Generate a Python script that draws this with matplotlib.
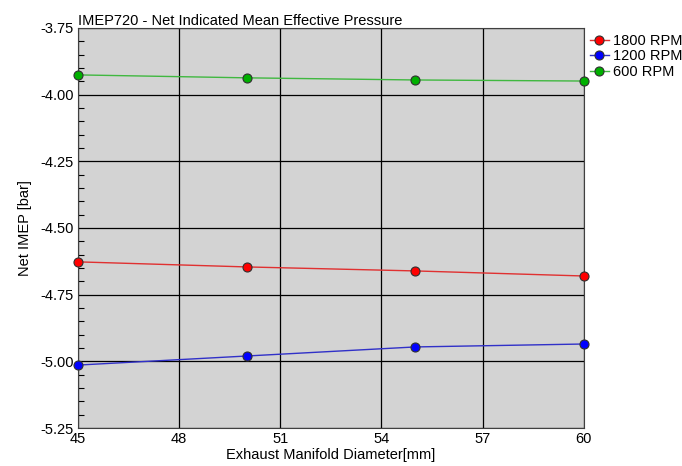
import matplotlib
matplotlib.use("Agg")
import matplotlib.pyplot as plt
from matplotlib.ticker import MultipleLocator, FormatStrFormatter
from matplotlib import font_manager

# pick a condensed sans face if available
names = {f.name for f in font_manager.fontManager.ttflist}
family = "Liberation Sans Narrow" if "Liberation Sans Narrow" in names else "Liberation Sans"
plt.rcParams["font.family"] = [family, "DejaVu Sans"]

diameter = [45, 50, 55, 60]
imep_1800 = [-4.627, -4.646, -4.661, -4.680]
imep_1200 = [-5.014, -4.980, -4.946, -4.935]
imep_600 = [-3.926, -3.937, -3.945, -3.949]

series = [
    ("1800 RPM", imep_1800, "#ff0000", "#e03030"),
    ("1200 RPM", imep_1200, "#0000ff", "#3030c8"),
    ("600 RPM", imep_600, "#00b000", "#40b840"),
]

fig = plt.figure(figsize=(6.82, 4.66), dpi=100)
ax = fig.add_axes([0.1144, 0.0815, 0.7416, 0.8585])
ax.set_facecolor("#d3d3d3")

for label, vals, face, line in series:
    ax.plot(diameter, vals, color=line, lw=1.0, marker="o", ms=6.5,
            mfc=face, mec="#303030", mew=0.8, label=label, clip_on=False, zorder=3)

ax.set_xlim(45, 60)
ax.set_ylim(-5.25, -3.75)
ax.xaxis.set_major_locator(MultipleLocator(3))
ax.yaxis.set_major_locator(MultipleLocator(0.25))
ax.yaxis.set_minor_locator(MultipleLocator(0.05))
ax.yaxis.set_major_formatter(FormatStrFormatter("%.2f"))
ax.grid(True, which="major", color="black", lw=0.9)
ax.tick_params(axis="both", which="major", direction="in", length=0, labelsize=10.5, pad=3)
ax.tick_params(axis="y", which="minor", direction="in", length=4, width=0.8)
for s in ax.spines.values():
    s.set_color("#404040")

ax.set_xlabel("Exhaust Manifold Diameter[mm]", fontsize=10.5, labelpad=1)
ax.set_ylabel("Net IMEP [bar]", fontsize=10.5, labelpad=6)
ax.set_title("IMEP720 - Net Indicated Mean Effective Pressure", fontsize=10.5,
             loc="left", pad=2)

ax.legend(loc="upper left", bbox_to_anchor=(1.0, 1.0), frameon=False,
          fontsize=10.5, handlelength=1.3, handletextpad=0.3, borderaxespad=0.2,
          labelspacing=0.1, borderpad=0.2)

fig.savefig("out.png", dpi=100)
